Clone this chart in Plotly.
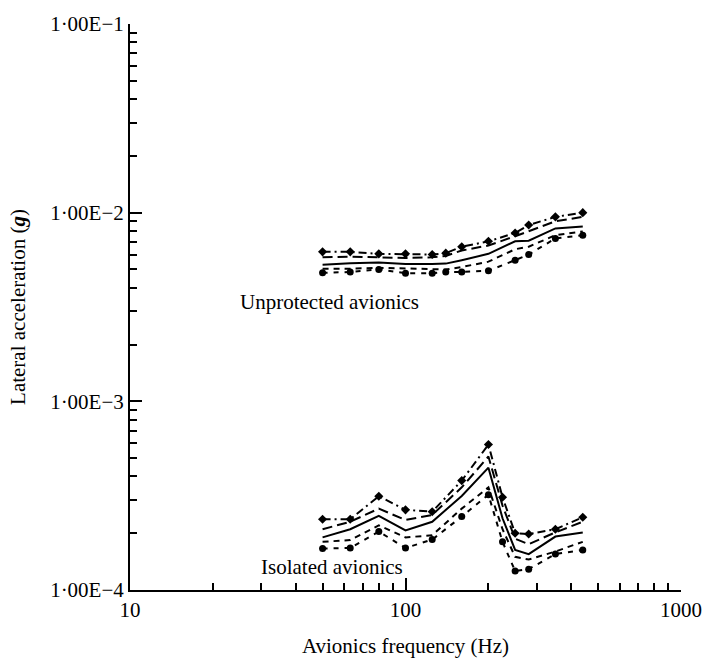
import math
import plotly.graph_objects as go

# Upper group: unprotected avionics (frequency in Hz, acceleration in g)
freq_up = [50, 63, 80, 100, 125, 140, 160, 200, 250, 280, 350, 440]
up_mean = [5.3e-3, 5.4e-3, 5.45e-3, 5.35e-3, 5.35e-3, 5.37e-3, 5.6e-3, 6.05e-3, 7.05e-3, 7.1e-3, 8.25e-3, 8.45e-3]
up_hi1 = [5.8e-3, 5.85e-3, 5.8e-3, 5.75e-3, 5.8e-3, 5.9e-3, 6.3e-3, 6.7e-3, 7.5e-3, 8.0e-3, 9.0e-3, 9.5e-3]
up_hi2 = [6.2e-3, 6.2e-3, 6.05e-3, 6.05e-3, 6.0e-3, 6.1e-3, 6.6e-3, 7.05e-3, 7.8e-3, 8.6e-3, 9.5e-3, 1.0e-2]
up_lo1 = [5.05e-3, 5.05e-3, 5.1e-3, 5.05e-3, 5.0e-3, 5.0e-3, 5.15e-3, 5.5e-3, 6.4e-3, 6.6e-3, 7.6e-3, 7.95e-3]
up_lo2 = [4.8e-3, 4.85e-3, 5.0e-3, 4.78e-3, 4.78e-3, 4.85e-3, 4.85e-3, 4.92e-3, 5.6e-3, 6.0e-3, 7.3e-3, 7.6e-3]

# Lower group: isolated avionics
freq_iso = [50, 63, 80, 100, 125, 160, 200, 225, 250, 280, 350, 440]
iso_mean = [1.9e-4, 2.1e-4, 2.47e-4, 2.07e-4, 2.3e-4, 3.15e-4, 4.45e-4, 2.4e-4, 1.63e-4, 1.55e-4, 1.92e-4, 2.02e-4]
iso_hi1 = [2.1e-4, 2.3e-4, 2.7e-4, 2.35e-4, 2.5e-4, 3.5e-4, 5.1e-4, 2.8e-4, 1.87e-4, 1.75e-4, 2.02e-4, 2.3e-4]
iso_hi2 = [2.37e-4, 2.37e-4, 3.14e-4, 2.66e-4, 2.6e-4, 3.8e-4, 5.9e-4, 3.1e-4, 2.0e-4, 1.98e-4, 2.1e-4, 2.43e-4]
iso_lo1 = [1.8e-4, 1.84e-4, 2.2e-4, 1.9e-4, 1.95e-4, 2.7e-4, 3.5e-4, 2.1e-4, 1.5e-4, 1.45e-4, 1.6e-4, 1.8e-4]
iso_lo2 = [1.66e-4, 1.67e-4, 2.04e-4, 1.67e-4, 1.85e-4, 2.45e-4, 3.2e-4, 1.8e-4, 1.26e-4, 1.29e-4, 1.55e-4, 1.63e-4]

x_ticks = [10, 100, 1000]
x_tick_text = ["10", "100", "1000"]
y_ticks = [1e-4, 1e-3, 1e-2, 1e-1]
y_tick_text = ["1·00E−4", "1·00E−3", "1·00E−2", "1·00E−1"]

# label positions (Hz, g)
label_up = ("Unprotected avionics", 53.0, 3.35e-3)
label_iso = ("Isolated avionics", 53.9, 1.324e-4)

FONT = "Liberation Serif"
FS = 21

fig = go.Figure()

def add_group(x, mean, hi1, hi2, lo1, lo2):
    fig.add_trace(go.Scatter(x=x, y=hi2, mode="lines+markers",
                             line=dict(color="black", width=2, dash="8px,4px,2px,4px"),
                             marker=dict(symbol="diamond", size=7, color="black")))
    fig.add_trace(go.Scatter(x=x, y=hi1, mode="lines",
                             line=dict(color="black", width=2, dash="10px,5px")))
    fig.add_trace(go.Scatter(x=x, y=mean, mode="lines",
                             line=dict(color="black", width=2)))
    fig.add_trace(go.Scatter(x=x, y=lo1, mode="lines",
                             line=dict(color="black", width=2, dash="6px,5px")))
    fig.add_trace(go.Scatter(x=x, y=lo2, mode="lines+markers",
                             line=dict(color="black", width=2, dash="5px,6px"),
                             marker=dict(symbol="circle", size=7, color="black")))

add_group(freq_up, up_mean, up_hi1, up_hi2, up_lo1, up_lo2)
add_group(freq_iso, iso_mean, iso_hi1, iso_hi2, iso_lo1, iso_lo2)

for txt, fx, gy in (label_up, label_iso):
    fig.add_annotation(x=math.log10(fx), y=math.log10(gy), xref="x", yref="y", text=txt,
                       showarrow=False, font=dict(family=FONT, size=FS, color="black"))

fig.update_layout(
    width=714, height=666,
    margin=dict(l=130, r=26, t=12, b=69),
    paper_bgcolor="white", plot_bgcolor="white",
    showlegend=False,
    font=dict(family=FONT, size=FS, color="black"),
)
fig.update_xaxes(type="log", range=[1, 3], tickvals=x_ticks, ticktext=x_tick_text,
                 ticks="inside", ticklen=12, tickwidth=2, tickcolor="black",
                 showline=True, linewidth=2, linecolor="black", showgrid=False, zeroline=False,
                 minor=dict(ticks="inside", ticklen=7, tickwidth=2, tickcolor="black", dtick="D1", showgrid=False),
                 title=dict(text="Avionics frequency (Hz)", standoff=17,
                            font=dict(family=FONT, size=FS)),
                 tickfont=dict(family=FONT, size=FS), ticklabeloverflow="allow")
fig.update_yaxes(type="log", range=[-4, -1], tickvals=y_ticks, ticktext=y_tick_text,
                 ticks="inside", ticklen=12, tickwidth=2, tickcolor="black",
                 showline=True, linewidth=2, linecolor="black", showgrid=False, zeroline=False,
                 minor=dict(ticks="inside", ticklen=7, tickwidth=2, tickcolor="black", dtick="D1", showgrid=False),
                 title=dict(text="Lateral acceleration (<b><i>g</i></b>)", standoff=19,
                            font=dict(family=FONT, size=FS)),
                 tickfont=dict(family=FONT, size=FS), ticklabeloverflow="allow")

fig.write_html("out.html")
